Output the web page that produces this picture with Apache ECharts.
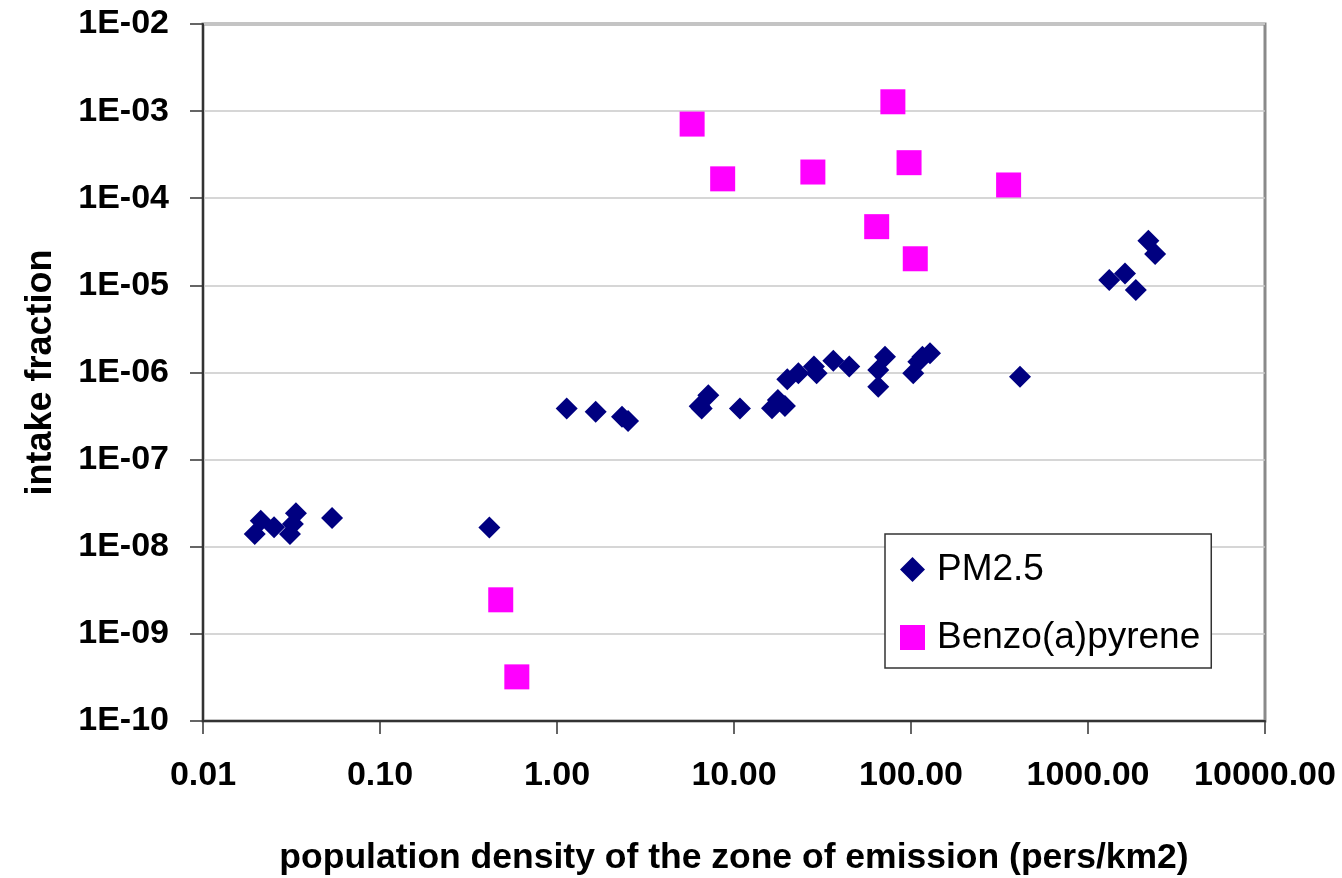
<!DOCTYPE html>
<html>
<head>
<meta charset="utf-8">
<script src="https://cdn.jsdelivr.net/npm/echarts@6/dist/echarts.min.js"></script>
<style>
  html, body { margin: 0; padding: 0; background: #ffffff; }
  #chart { width: 1342px; height: 878px; }
</style>
</head>
<body>
<div id="chart"></div>
<script>
// Population density (pers/km2) and intake fraction for each emission zone
const pm25Density = [0.0196, 0.0212, 0.0252, 0.0310, 0.0322, 0.0335, 0.0536, 0.415,
  1.134, 1.654, 2.33, 2.52, 6.4, 6.57, 7.16, 10.8, 16.4, 17.7, 19.4, 20.0, 23.1,
  28.3, 29.3, 36.4, 44.8, 65.3, 65.3, 71.3, 103, 110, 116, 128, 413,
  1318, 1618, 1862, 2193, 2394];
const pm25Intake = [1.40e-8, 1.99e-8, 1.67e-8, 1.40e-8, 1.82e-8, 2.42e-8, 2.14e-8, 1.66e-8,
  3.85e-7, 3.55e-7, 3.11e-7, 2.77e-7, 4.1e-7, 3.85e-7, 5.47e-7, 3.85e-7, 3.88e-7, 4.83e-7, 4.12e-7, 8.36e-7, 9.8e-7,
  1.17e-6, 9.8e-7, 1.36e-6, 1.17e-6, 1.07e-6, 6.87e-7, 1.52e-6, 9.8e-7, 1.33e-6, 1.52e-6, 1.66e-6, 8.95e-7,
  1.15e-5, 1.37e-5, 8.85e-6, 3.26e-5, 2.29e-5];

const bapDensity = [0.481, 0.593, 5.8, 8.63, 27.9, 64, 79, 97.5, 105.7, 356];
const bapIntake = [2.46e-9, 3.21e-10, 7.1e-4, 1.67e-4, 2.0e-4, 4.72e-5, 1.28e-3, 2.56e-4, 2.02e-5, 1.42e-4];

const seriesNames = ['PM2.5', 'Benzo(a)pyrene'];
const xTitle = 'population density of the zone of emission (pers/km2)';
const yTitle = 'intake fraction';

const FONT = '"Liberation Sans", Arial, sans-serif';

function pairs(xs, ys) {
  return xs.map((x, i) => [x, ys[i]]);
}

function sciLabel(v) {
  const e = Math.round(Math.log10(v));
  const a = Math.abs(e);
  return '1E' + (e < 0 ? '-' : '+') + (a < 10 ? '0' + a : String(a));
}

const chart = echarts.init(document.getElementById('chart'), null, { renderer: 'canvas' });

chart.setOption({
  animation: false,
  backgroundColor: '#ffffff',
  grid: {
    left: 203, top: 24, right: 77, bottom: 157,
    outerBoundsMode: 'none', containLabel: false,
    show: true, borderColor: '#8a8a8a', borderWidth: 3, backgroundColor: 'transparent'
  },
  xAxis: {
    type: 'log', logBase: 10, min: 0.01, max: 10000, splitNumber: 6,
    name: xTitle, nameLocation: 'middle', nameGap: 119,
    nameTextStyle: { fontFamily: FONT, fontWeight: 'bold', fontSize: 35.5, color: '#000' },
    axisLine: { show: true, onZero: false, lineStyle: { color: '#333', width: 2 } },
    axisTick: { show: true, inside: false, length: 13, lineStyle: { color: '#333', width: 1.5 } },
    axisLabel: {
      margin: 38, fontFamily: FONT, fontWeight: 'bold', fontSize: 34, color: '#000',
      formatter: v => Number(v).toFixed(2), showMinLabel: true, showMaxLabel: true
    },
    splitLine: { show: false },
    minorTick: { show: false }
  },
  yAxis: {
    type: 'log', logBase: 10, min: 1e-10, max: 1e-2, splitNumber: 8,
    name: yTitle, nameLocation: 'middle', nameGap: 144,
    nameTextStyle: { fontFamily: FONT, fontWeight: 'bold', fontSize: 36, color: '#000' },
    axisLine: { show: true, onZero: false, lineStyle: { color: '#333', width: 2 } },
    axisTick: { show: true, inside: false, length: 13, lineStyle: { color: '#333', width: 1.5 } },
    axisLabel: {
      margin: 34, fontFamily: FONT, fontWeight: 'bold', fontSize: 34, color: '#000',
      formatter: v => sciLabel(v), showMinLabel: true, showMaxLabel: true
    },
    splitLine: { show: true, lineStyle: { color: '#c8c8c8', width: 1.5 } }
  },
  legend: {
    orient: 'vertical', left: 885, top: 534,
    padding: [15, 11, 10, 15],
    itemWidth: 25, itemHeight: 25, itemGap: 27,
    backgroundColor: '#ffffff', borderColor: '#333', borderWidth: 1.5, borderRadius: 0,
    textStyle: { fontFamily: FONT, fontSize: 37, color: '#000', lineHeight: 41, padding: [0, 0, 0, 7] },
    data: [
      { name: seriesNames[0], icon: 'diamond' },
      { name: seriesNames[1], icon: 'rect' }
    ]
  },
  series: [
    {
      name: seriesNames[0], type: 'scatter', symbol: 'diamond', symbolSize: 22,
      itemStyle: { color: '#000080', opacity: 1 },
      data: pairs(pm25Density, pm25Intake)
    },
    {
      name: seriesNames[1], type: 'scatter', symbol: 'rect', symbolSize: 25,
      itemStyle: { color: '#ff00ff', opacity: 1 },
      data: pairs(bapDensity, bapIntake)
    }
  ]
});
</script>
</body>
</html>
